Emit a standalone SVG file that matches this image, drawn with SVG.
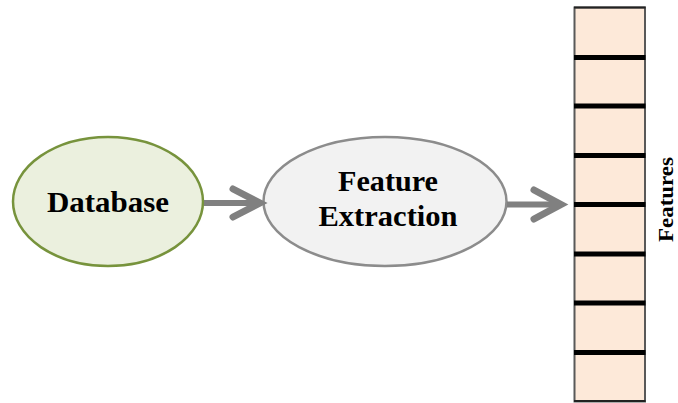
<svg xmlns="http://www.w3.org/2000/svg" width="678" height="403" viewBox="0 0 678 403">
  <style>
    .label { font-family: "Liberation Serif", "Times New Roman", serif; font-weight: bold; fill: #000; text-anchor: middle; }
    .conn { stroke: #808080; stroke-width: 6; fill: none; }
    .head { stroke: #808080; stroke-width: 7; fill: none; stroke-linecap: round; stroke-linejoin: miter; }
    .divider { stroke: #000; stroke-width: 5; }
  </style>
  <rect width="678" height="403" fill="#ffffff"/>

  <g id="database">
    <ellipse cx="108" cy="201.5" rx="95" ry="64.5" fill="#ebf0de" stroke="#77933c" stroke-width="2.5"/>
    <text class="label" x="108" y="212" font-size="30" textLength="122" lengthAdjust="spacingAndGlyphs">Database</text>
  </g>

  <g id="feature-extraction">
    <ellipse cx="385" cy="201.5" rx="121.5" ry="64.5" fill="#f2f2f2" stroke="#8c8c8c" stroke-width="2.5"/>
    <text class="label" x="388" y="191" font-size="30" textLength="100" lengthAdjust="spacingAndGlyphs">Feature</text>
    <text class="label" x="388" y="226" font-size="30" textLength="139" lengthAdjust="spacingAndGlyphs">Extraction</text>
  </g>

  <g id="features">
    <rect x="574.5" y="7.5" width="70.5" height="394" fill="#fde9d9" stroke="#595959" stroke-width="2"/>
    <line x1="574" y1="7.5" x2="645.5" y2="7.5" stroke="#222" stroke-width="2"/>
    <line x1="574" y1="401" x2="645.5" y2="401" stroke="#222" stroke-width="2"/>
    <g class="divider">
      <line x1="574" y1="57.5" x2="645.5" y2="57.5"/>
      <line x1="574" y1="106" x2="645.5" y2="106"/>
      <line x1="574" y1="155.5" x2="645.5" y2="155.5"/>
      <line x1="574" y1="204.5" x2="645.5" y2="204.5"/>
      <line x1="574" y1="254" x2="645.5" y2="254"/>
      <line x1="574" y1="303" x2="645.5" y2="303"/>
      <line x1="574" y1="352.5" x2="645.5" y2="352.5"/>
    </g>
    <text class="label" transform="translate(673 199.5) rotate(-90)" x="0" y="0" font-size="22" textLength="85" lengthAdjust="spacingAndGlyphs">Features</text>
  </g>

  <g id="connectors">
    <line class="conn" x1="204" y1="203" x2="258" y2="203"/>
    <polyline class="head" points="233,189 260,203 233,217"/>
    <line class="conn" x1="507" y1="204.5" x2="559" y2="204.5"/>
    <polyline class="head" points="534,190 561,204.5 534,219"/>
  </g>
</svg>
